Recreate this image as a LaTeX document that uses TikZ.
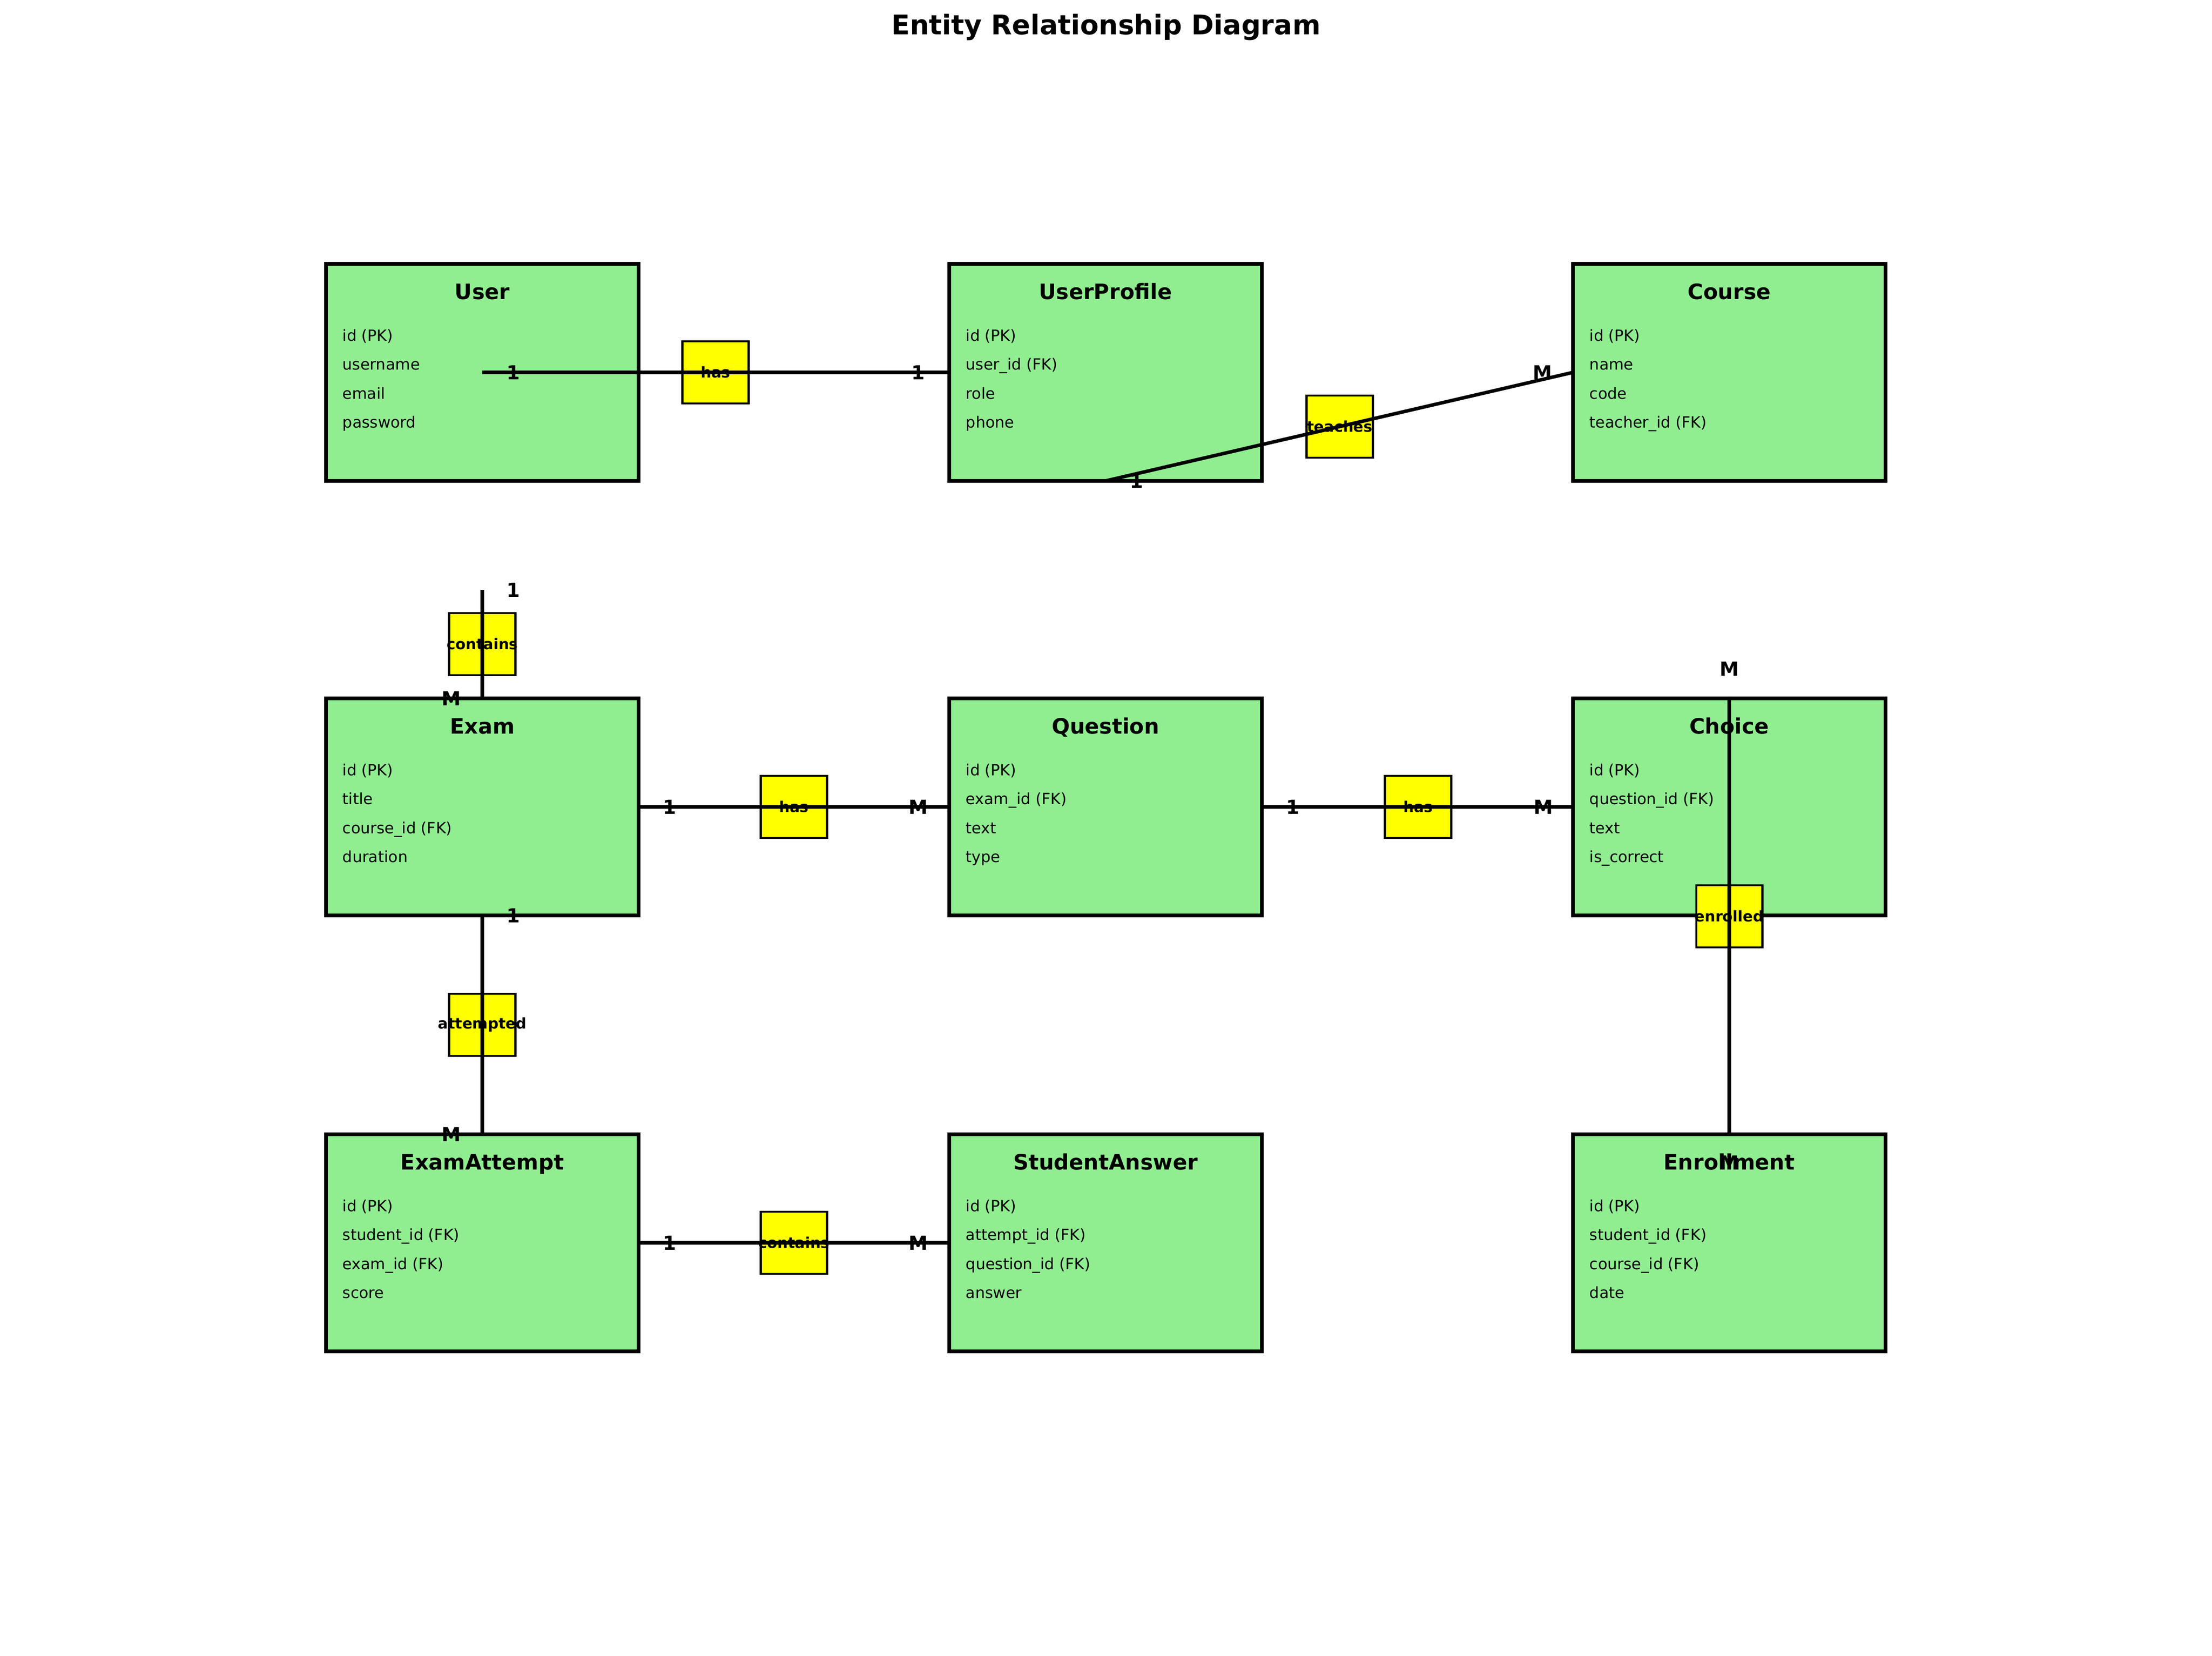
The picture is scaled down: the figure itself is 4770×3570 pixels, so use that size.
\documentclass[tikz,border=0pt]{standalone}
\usepackage{fontspec}
\setmainfont{DejaVu Sans}
\definecolor{entgreen}{HTML}{90EE90}
\definecolor{relyellow}{HTML}{FFFF00}
\tikzset{
  entity/.style={draw=black, fill=entgreen, line width=1.8pt, minimum width=161.76pt, minimum height=112.32pt, inner sep=0pt, outer sep=0pt},
  enttitle/.style={anchor=base, inner sep=0pt, font=\fontsize{11}{13}\selectfont\bfseries},
  attr/.style={anchor=base west, inner sep=0pt, font=\fontsize{8}{10}\selectfont},
  relbox/.style={draw=black, fill=relyellow, line width=1pt, minimum width=34.3pt, minimum height=32.2pt, inner sep=0pt, outer sep=0pt},
  reltext/.style={inner sep=0pt, font=\fontsize{7.7}{9}\selectfont\bfseries},
  conn/.style={draw=black, line width=1.8pt},
  card/.style={inner sep=0pt, font=\fontsize{10}{12}\selectfont\bfseries},
  maintitle/.style={anchor=base, inner sep=0pt, font=\fontsize{14}{16}\selectfont\bfseries}
}
\newcommand{\entityblock}[8]{%
  % #1 name, #2 center x, #3 top y, #4 title, #5-#8 attributes
  \node[entity] (#1) at (#2,#3+234) {};
  \node[enttitle] (#1-t) at (#2,#3+76) {#4};
  \node[attr] (#1-a1) at (#2-302,#3+166) {#5};
  \node[attr] (#1-a2) at (#2-302,#3+228.5) {#6};
  \node[attr] (#1-a3) at (#2-302,#3+291) {#7};
  \node[attr] (#1-a4) at (#2-302,#3+353.5) {#8};
}
\begin{document}
\begin{tikzpicture}[x=0.24pt, y=-0.24pt]
\useasboundingbox (0,0) rectangle (4770,3570);
\node[maintitle] (title) at (2385,74) {Entity Relationship Diagram};

% entities
\entityblock{user}{1040}{569}{User}{id (PK)}{username}{email}{password}
\entityblock{userprofile}{2384}{569}{UserProfile}{id (PK)}{user\_id (FK)}{role}{phone}
\entityblock{course}{3729}{569}{Course}{id (PK)}{name}{code}{teacher\_id (FK)}
\entityblock{exam}{1040}{1506}{Exam}{id (PK)}{title}{course\_id (FK)}{duration}
\entityblock{question}{2384}{1506}{Question}{id (PK)}{exam\_id (FK)}{text}{type}
\entityblock{choice}{3729}{1506}{Choice}{id (PK)}{question\_id (FK)}{text}{is\_correct}
\entityblock{examattempt}{1040}{2446}{ExamAttempt}{id (PK)}{student\_id (FK)}{exam\_id (FK)}{score}
\entityblock{studentanswer}{2384}{2446}{StudentAnswer}{id (PK)}{attempt\_id (FK)}{question\_id (FK)}{answer}
\entityblock{enrollment}{3729}{2446}{Enrollment}{id (PK)}{student\_id (FK)}{course\_id (FK)}{date}

\coordinate (cstart) at (1040,1272);

% relationship boxes
\node[relbox] (r1) at (1543,803) {};
\node[relbox] (r2) at (2889,920) {};
\node[relbox] (r3) at (1040,1389) {};
\node[relbox] (r4) at (1712,1740) {};
\node[relbox] (r5) at (3058,1740) {};
\node[relbox] (r6) at (1040,2210) {};
\node[relbox] (r7) at (1712,2680) {};
\node[relbox] (r8) at (3729,1976) {};

% connectors
\draw[conn] (user.center) -- (userprofile.west);
\draw[conn] (userprofile.south) -- (course.west);
\draw[conn] (cstart) -- (exam.north);
\draw[conn] (exam.east) -- (question.west);
\draw[conn] (question.east) -- (choice.west);
\draw[conn] (exam.south) -- (examattempt.north);
\draw[conn] (examattempt.east) -- (studentanswer.west);
\draw[conn] (choice.north) -- (enrollment.north);

% relationship labels
\node[reltext] (r1t) at (r1) {has};
\node[reltext] (r2t) at (r2) {teaches};
\node[reltext] (r3t) at (r3) {contains};
\node[reltext] (r4t) at (r4) {has};
\node[reltext] (r5t) at (r5) {has};
\node[reltext] (r6t) at (r6) {attempted};
\node[reltext] (r7t) at (r7) {contains};
\node[reltext] (r8t) at (r8) {enrolled};

% cardinalities
\node[card] (k1a) at (1107,803) {1};
\node[card] (k1b) at (1980,803) {1};
\node[card] (k2a) at (2451,1037) {1};
\node[card] (k2b) at (3326,803) {M};
\node[card] (k3a) at (1107,1272) {1};
\node[card] (k3b) at (973,1506) {M};
\node[card] (k4a) at (1444,1740) {1};
\node[card] (k4b) at (1980,1740) {M};
\node[card] (k5a) at (2788,1740) {1};
\node[card] (k5b) at (3328,1740) {M};
\node[card] (k6a) at (1107,1974) {1};
\node[card] (k6b) at (973,2446) {M};
\node[card] (k7a) at (1444,2680) {1};
\node[card] (k7b) at (1980,2680) {M};
\node[card] (k8a) at (3729,1442) {M};
\node[card] (k8b) at (3729,2507) {M};
\end{tikzpicture}
\end{document}
